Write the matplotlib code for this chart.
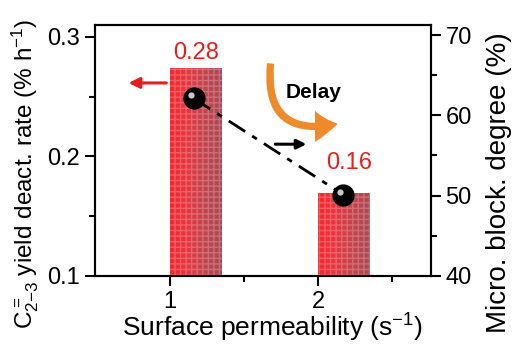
import numpy as np
import matplotlib
matplotlib.use("Agg")
import matplotlib.pyplot as plt
import matplotlib.transforms as mtransforms
from matplotlib.colors import LinearSegmentedColormap
from matplotlib.patches import FancyArrowPatch
from matplotlib.ticker import FixedLocator

plt.rcParams["font.family"] = ["Liberation Sans", "DejaVu Sans"]
plt.rcParams["mathtext.fontset"] = "custom"
plt.rcParams["mathtext.rm"] = "Liberation Sans"
plt.rcParams["mathtext.default"] = "regular"

# data
permeability = [1, 2]
deact_rate = [0.274, 0.169]
rate_labels = ["0.28", "0.16"]
block_x = [1.16, 2.17]
block_degree = [62.1, 50.1]

fig = plt.figure(figsize=(5.13, 3.47), dpi=100)
ax = fig.add_axes([0.185, 0.205, 0.655, 0.723])
ax2 = ax.twinx()
ax.set_xlim(0.493, 2.76)
ax.set_ylim(0.1, 0.31)
ax2.set_ylim(40, 71.25)
ybot = ax.get_ylim()[0]

bars = ax.bar(permeability, deact_rate, width=0.35, align="edge",
              color="none", edgecolor="none", zorder=2)
cmap = LinearSegmentedColormap.from_list("barred", ["#f5262d", "#e63840", "#c0454f", "#a94a55"])
grad = np.linspace(0, 1, 64).reshape(1, -1)
# label placement tweaks (x shift, y gap) per bar
label_offsets = [(0.0, 0.003), (0.035, 0.016)]
for b, lab, (dx, dy) in zip(bars, rate_labels, label_offsets):
    x0, w, h = b.get_x(), b.get_width(), b.get_height()
    im = ax.imshow(grad, extent=(x0, x0 + w, ybot, h), cmap=cmap,
                   aspect="auto", zorder=2, origin="lower")
    im.set_clip_path(b)
    ax.bar(x0, h - ybot, bottom=ybot, width=w, align="edge", color="none",
           edgecolor=(1, 0.8, 0.8, 0.3), hatch="+++", linewidth=0, zorder=3)
    ax.text(x0 + w / 2 + dx, h + dy, lab,
            color="#ee1c1c", fontsize=17, ha="center", va="bottom", zorder=5)
ax.set_xlim(0.493, 2.76)
ax.set_ylim(0.1, 0.31)

# dash-dot line with spheres
ax2.plot(block_x, block_degree, color="black", lw=2, dashes=(7, 3, 2, 3), zorder=4)
ax2.plot(block_x, block_degree, "o", ms=15, color="black", zorder=5)
shift = mtransforms.ScaledTranslation(-3 / 100, 3 / 100, fig.dpi_scale_trans)
ax2.plot(block_x, block_degree, "o", ms=4.5, color="#c8c8c8", mec="none",
         transform=ax2.transData + shift, zorder=6)

# arrows
ax.annotate("", xy=(0.72, 0.2615), xytext=(0.975, 0.2615),
            arrowprops=dict(arrowstyle="-|>", color="#e81c1c", lw=2.2,
                            mutation_scale=16, shrinkA=0, shrinkB=0))
ax2.annotate("", xy=(1.92, 56.4), xytext=(1.71, 56.4),
             arrowprops=dict(arrowstyle="-|>", color="black", lw=2.2,
                             mutation_scale=14, shrinkA=0, shrinkB=0))
delay = FancyArrowPatch((1.68, 66.8), (2.15, 59.0), connectionstyle="arc3,rad=0.7",
                        arrowstyle="simple,head_length=1.1,head_width=1.5,tail_width=0.35",
                        mutation_scale=15, color="#ef8a2a", lw=0, zorder=4)
ax2.add_patch(delay)
ax2.text(1.97, 62.9, "Delay", fontsize=15, fontweight="bold", ha="center", va="center")

# axes styling
ax.set_yticks([0.1, 0.2, 0.3])
ax.yaxis.set_minor_locator(FixedLocator([0.15, 0.25]))
ax.set_xticks(permeability)
ax.xaxis.set_minor_locator(FixedLocator([1.5, 2.5]))
ax2.set_yticks([40, 50, 60, 70])
ax2.yaxis.set_minor_locator(FixedLocator([45, 55, 65]))
for a in (ax, ax2):
    a.tick_params(which="major", direction="out", length=7, width=1.5, labelsize=17)
    a.tick_params(which="minor", direction="out", length=4, width=1.5)
    for s in a.spines.values():
        s.set_linewidth(1.5)
ax.tick_params(axis="x", pad=4)

ax.set_xlabel("Surface permeability (s$^{-1}$)", fontsize=19)
ax.xaxis.set_label_coords(0.527, -0.145)
ax.set_ylabel(r"C$_{2\mathrm{-}3}^{=}$ yield deact. rate (% h$^{-1}$)", fontsize=17.5)
ax.yaxis.set_label_coords(-0.16, 0.405)
ax2.set_ylabel("Micro. block. degree (%)", fontsize=20)
ax2.yaxis.set_label_coords(1.165, 0.37)

fig.savefig("out.png", dpi=100)
